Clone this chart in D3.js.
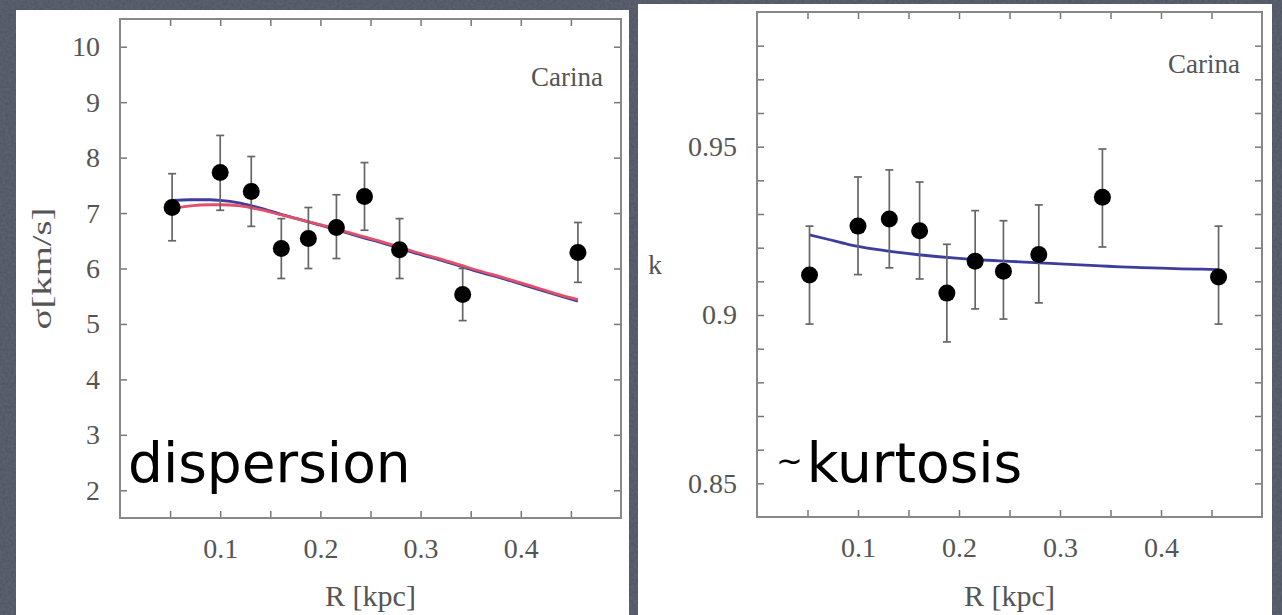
<!DOCTYPE html>
<html>
<head>
<meta charset="utf-8">
<script src="https://cdn.jsdelivr.net/npm/d3@7"></script>
<style>
  body { margin: 0; background: #4c5261; }
  svg { display: block; }
  .tick text { font-family: "Liberation Serif", serif; fill: #555; }
</style>
</head>
<body>
<script>
// data
var rKpc = [0.052, 0.100, 0.131, 0.161, 0.188, 0.216, 0.244, 0.279, 0.342, 0.457];
var sigma = [7.10, 7.73, 7.39, 6.36, 6.54, 6.74, 7.30, 6.34, 5.53, 6.29];
var sigmaLo = [6.50, 7.05, 6.76, 5.82, 6.00, 6.18, 6.69, 5.82, 5.06, 5.75];
var sigmaHi = [7.71, 8.40, 8.02, 6.90, 7.10, 7.33, 7.91, 6.90, 6.00, 6.83];

var kurt = [0.9119, 0.9264, 0.9285, 0.9250, 0.9065, 0.9160, 0.9130, 0.9180, 0.9350, 0.9113];
var kurtLo = [0.8973, 0.9120, 0.9140, 0.9107, 0.8920, 0.9018, 0.8988, 0.9036, 0.9202, 0.8973];
var kurtHi = [0.9264, 0.9410, 0.9431, 0.9395, 0.9210, 0.9310, 0.9280, 0.9327, 0.9493, 0.9264];

// model curves
var fitR = [0.052, 0.07, 0.09, 0.10, 0.12, 0.14, 0.16, 0.18, 0.20, 0.22, 0.24, 0.26, 0.28, 0.30, 0.32, 0.34, 0.36, 0.38, 0.40, 0.42, 0.44, 0.457];
var sigmaBlue = [7.23, 7.24, 7.24, 7.23, 7.18, 7.09, 6.98, 6.88, 6.78, 6.68, 6.57, 6.47, 6.36, 6.25, 6.15, 6.04, 5.93, 5.83, 5.72, 5.61, 5.50, 5.41];
var sigmaRed = [7.08, 7.13, 7.15, 7.15, 7.13, 7.06, 6.97, 6.88, 6.79, 6.69, 6.59, 6.49, 6.38, 6.27, 6.17, 6.06, 5.95, 5.85, 5.74, 5.63, 5.52, 5.44];
var kurtBlue = [0.9238, 0.9225, 0.9210, 0.9204, 0.9194, 0.9186, 0.9179, 0.9173, 0.9168, 0.9164, 0.9161, 0.9158, 0.9155, 0.9152, 0.9149, 0.9146, 0.9143, 0.9141, 0.9139, 0.9137, 0.9136, 0.9135];

// ticks
var xMajor = [0.1, 0.2, 0.3, 0.4];
var xAll = [0.05, 0.1, 0.15, 0.2, 0.25, 0.3, 0.35, 0.4, 0.45];
var sigmaTicks = [2, 3, 4, 5, 6, 7, 8, 9, 10];
var kurtTicks = [0.85, 0.86, 0.87, 0.88, 0.89, 0.9, 0.91, 0.92, 0.93, 0.94, 0.95, 0.96, 0.97, 0.98];
var kurtMajor = [0.85, 0.9, 0.95];

var width = 1282, height = 615;

var svg = d3.select("body").append("svg")
  .attr("width", width)
  .attr("height", height);

// slate background with a faint grain
var filter = svg.append("defs").append("filter")
  .attr("id", "grain")
  .attr("x", 0).attr("y", 0).attr("width", "100%").attr("height", "100%");
filter.append("feTurbulence")
  .attr("type", "fractalNoise")
  .attr("baseFrequency", 0.35)
  .attr("numOctaves", 2)
  .attr("seed", 3);
filter.append("feColorMatrix")
  .attr("values", "0 0 0 0 0.30  0 0 0 0 0.32  0 0 0 0 0.38  0 0 0 0.35 0");
filter.append("feComposite").attr("in2", "SourceGraphic").attr("operator", "over");

svg.append("rect")
  .attr("width", width).attr("height", height)
  .attr("fill", "#4c5261");
svg.append("rect")
  .attr("width", width).attr("height", height)
  .attr("fill", "#4c5261")
  .attr("filter", "url(#grain)")
  .attr("opacity", 0.6);

function drawPanel(p) {
  var g = svg.append("g");

  // white card
  g.append("rect")
    .attr("x", p.card[0]).attr("y", p.card[1])
    .attr("width", p.card[2]).attr("height", p.card[3])
    .attr("fill", "#fff");

  var x = d3.scaleLinear().domain([0, 0.5]).range([p.left, p.right]);
  var y = d3.scaleLinear().domain(p.yDomain).range([p.bottom, p.top]);

  // axes, ticks pointing in
  var bottom = g.append("g")
    .attr("transform", "translate(0," + p.bottom + ")")
    .call(d3.axisBottom(x).tickValues(xAll).tickSize(-7).tickPadding(20)
      .tickFormat(function(d) {
        return xMajor.some(function(m) { return Math.abs(m - d) < 1e-9; }) ? d3.format(".1f")(d) : "";
      }));
  var top = g.append("g")
    .attr("transform", "translate(0," + p.top + ")")
    .call(d3.axisTop(x).tickValues(xAll).tickSize(-7).tickFormat(""));
  var leftAx = g.append("g")
    .attr("transform", "translate(" + p.left + ",0)")
    .call(d3.axisLeft(y).tickValues(p.yTicks).tickSize(-7).tickPadding(20)
      .tickFormat(p.yFormat));
  var rightAx = g.append("g")
    .attr("transform", "translate(" + p.right + ",0)")
    .call(d3.axisRight(y).tickValues(p.yTicks).tickSize(-7).tickFormat(""));

  [bottom, top, leftAx, rightAx].forEach(function(a) {
    a.select(".domain").remove();
    a.selectAll(".tick line").attr("stroke", "#777").attr("stroke-width", 1.5);
    a.selectAll(".tick text").attr("font-size", 28);
  });

  // frame
  g.append("rect")
    .attr("x", p.left).attr("y", p.top)
    .attr("width", p.right - p.left).attr("height", p.bottom - p.top)
    .attr("fill", "none")
    .attr("stroke", "#888")
    .attr("stroke-width", 2);

  // curves
  p.curves.forEach(function(c) {
    var line = d3.line()
      .x(function(d, i) { return x(fitR[i]); })
      .y(function(d) { return y(d); })
      .curve(d3.curveMonotoneX);
    g.append("path")
      .datum(c.values)
      .attr("d", line)
      .attr("fill", "none")
      .attr("stroke", c.color)
      .attr("stroke-width", 2.8);
  });

  // error bars
  var err = g.selectAll(".err")
    .data(p.values)
    .enter()
    .append("g")
    .attr("class", "err")
    .attr("stroke", "#666")
    .attr("stroke-width", 1.7);
  err.append("line")
    .attr("x1", function(d, i) { return x(rKpc[i]); })
    .attr("x2", function(d, i) { return x(rKpc[i]); })
    .attr("y1", function(d, i) { return y(p.lo[i]); })
    .attr("y2", function(d, i) { return y(p.hi[i]); });
  err.append("line")
    .attr("x1", function(d, i) { return x(rKpc[i]) - 4; })
    .attr("x2", function(d, i) { return x(rKpc[i]) + 4; })
    .attr("y1", function(d, i) { return y(p.lo[i]); })
    .attr("y2", function(d, i) { return y(p.lo[i]); });
  err.append("line")
    .attr("x1", function(d, i) { return x(rKpc[i]) - 4; })
    .attr("x2", function(d, i) { return x(rKpc[i]) + 4; })
    .attr("y1", function(d, i) { return y(p.hi[i]); })
    .attr("y2", function(d, i) { return y(p.hi[i]); });

  // points
  g.selectAll(".pt")
    .data(p.values)
    .enter()
    .append("circle")
    .attr("class", "pt")
    .attr("cx", function(d, i) { return x(rKpc[i]); })
    .attr("cy", function(d) { return y(d); })
    .attr("r", 8.5)
    .attr("fill", "#000");

  // labels
  g.append("text")
    .attr("x", (p.left + p.right) / 2)
    .attr("y", 606)
    .attr("text-anchor", "middle")
    .attr("font-family", "Liberation Serif, serif")
    .attr("font-size", 30)
    .attr("fill", "#555")
    .text("R [kpc]");

  g.append("text")
    .attr("x", p.left + 447)
    .attr("y", p.carinaY)
    .attr("text-anchor", "middle")
    .attr("font-family", "Liberation Serif, serif")
    .attr("font-size", 27)
    .attr("fill", "#555")
    .text("Carina");

  var yl = g.append("text")
    .attr("transform", "translate(" + p.yTitleX + "," + ((p.top + p.bottom) / 2) + ")" + (p.rotate ? " rotate(-90)" : ""))
    .attr("text-anchor", "middle")
    .attr("dy", "0.35em")
    .attr("font-family", "Liberation Serif, serif")
    .attr("font-size", 28)
    .attr("fill", "#555")
    .text(p.yTitle);
  if (p.rotate) yl.attr("textLength", 122).attr("lengthAdjust", "spacingAndGlyphs");

  // hand written note
  var note = g.append("text")
    .attr("x", p.noteX)
    .attr("y", 482)
    .attr("font-family", "DejaVu Sans, sans-serif")
    .attr("font-size", 55)
    .attr("fill", "#000");
  if (p.tilde) {
    note.append("tspan").attr("font-size", 32).attr("dy", -10).text("~");
    note.append("tspan").attr("dy", 10).attr("dx", 4).text(p.note);
  } else {
    note.text(p.note);
  }
}

drawPanel({
  card: [16, 10, 613, 620],
  left: 120, right: 621, top: 19, bottom: 518,
  yDomain: [1.5, 10.5],
  yTicks: sigmaTicks,
  yFormat: d3.format("d"),
  values: sigma, lo: sigmaLo, hi: sigmaHi,
  curves: [{ values: sigmaBlue, color: "#3d3d9e" }, { values: sigmaRed, color: "#e2506a" }],
  carinaY: 86,
  yTitle: "σ[km/s]", yTitleX: 41, rotate: true,
  note: "dispersion", noteX: 128, tilde: false
});

drawPanel({
  card: [638, 4, 634, 620],
  left: 757, right: 1262, top: 12, bottom: 517,
  yDomain: [0.84, 0.99],
  yTicks: kurtTicks,
  yFormat: function(d) {
    return kurtMajor.some(function(m) { return Math.abs(m - d) < 1e-9; }) ? String(+d.toFixed(2)) : "";
  },
  values: kurt, lo: kurtLo, hi: kurtHi,
  curves: [{ values: kurtBlue, color: "#3d3d9e" }],
  carinaY: 73,
  yTitle: "k", yTitleX: 655, rotate: false,
  note: "kurtosis", noteX: 776, tilde: true
});
</script>
</body>
</html>
